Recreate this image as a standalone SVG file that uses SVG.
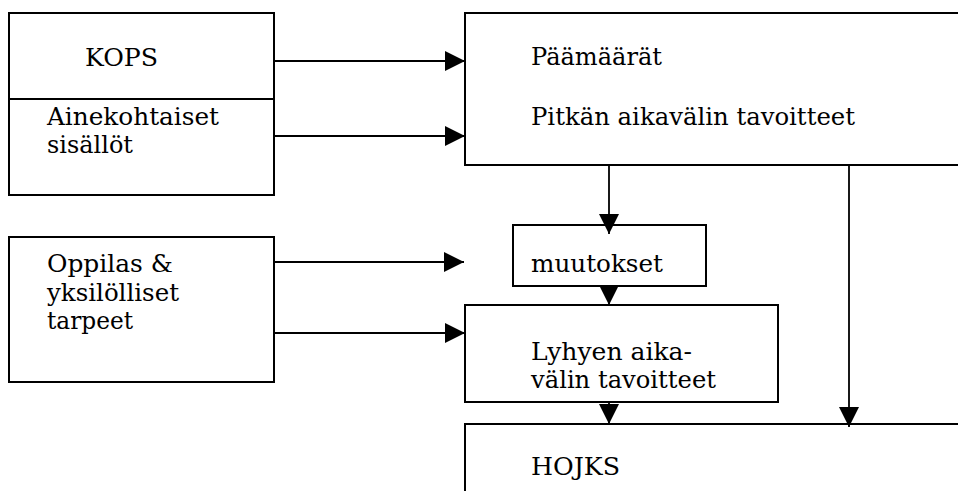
<svg xmlns="http://www.w3.org/2000/svg" width="958" height="491" viewBox="0 0 958 491">
<style>
.box{fill:#fff;stroke:#000;stroke-width:2}
.lbl{font-family:'DejaVu Serif','Liberation Serif',serif;font-size:25px;fill:#000}
.con{stroke:#000;stroke-width:1.8;fill:none;marker-end:url(#ah)}
</style>
<defs>
<marker id="ah" markerUnits="userSpaceOnUse" markerWidth="20" markerHeight="20" refX="20" refY="10" orient="auto" viewBox="0 0 20 20">
<path d="M0,0 L20,10 L0,20 z" fill="#000"/>
</marker>
</defs>
<rect width="958" height="491" fill="#fff"/>
<g id="kops">
<rect class="box" x="9" y="13" width="265" height="86"/>
<text class="lbl" x="85" y="66" textLength="73" lengthAdjust="spacingAndGlyphs">KOPS</text>
</g>
<g id="ainekohtaiset">
<rect class="box" x="9" y="99" width="265" height="96"/>
<text class="lbl" x="47" y="125" textLength="172" lengthAdjust="spacingAndGlyphs">Ainekohtaiset</text>
<text class="lbl" x="47" y="153" textLength="86" lengthAdjust="spacingAndGlyphs">sisällöt</text>
</g>
<g id="oppilas">
<rect class="box" x="9" y="237" width="265" height="145"/>
<text class="lbl" x="47" y="272" textLength="126" lengthAdjust="spacingAndGlyphs">Oppilas &amp;</text>
<text class="lbl" x="47" y="301" textLength="132" lengthAdjust="spacingAndGlyphs">yksilölliset</text>
<text class="lbl" x="47" y="329" textLength="86" lengthAdjust="spacingAndGlyphs">tarpeet</text>
</g>
<g id="paamaarat">
<rect class="box" x="465" y="13" width="520" height="152"/>
<text class="lbl" x="531" y="65" textLength="131" lengthAdjust="spacingAndGlyphs">Päämäärät</text>
<text class="lbl" x="531" y="125" textLength="324" lengthAdjust="spacingAndGlyphs">Pitkän aikavälin tavoitteet</text>
</g>
<g id="muutokset">
<rect class="box" x="513" y="225" width="193" height="61"/>
<text class="lbl" x="531" y="272" textLength="132" lengthAdjust="spacingAndGlyphs">muutokset</text>
</g>
<g id="lyhyen">
<rect class="box" x="465" y="305" width="313" height="97"/>
<text class="lbl" x="531" y="360" textLength="161" lengthAdjust="spacingAndGlyphs">Lyhyen aika-</text>
<text class="lbl" x="531" y="388" textLength="185" lengthAdjust="spacingAndGlyphs">välin tavoitteet</text>
</g>
<g id="hojks">
<rect class="box" x="465" y="424" width="520" height="100"/>
<text class="lbl" x="531" y="475" textLength="89" lengthAdjust="spacingAndGlyphs">HOJKS</text>
</g>
<g id="connectors">
<line class="con" x1="274" y1="61" x2="465" y2="61"/>
<line class="con" x1="274" y1="136" x2="465" y2="136"/>
<line class="con" x1="274" y1="262" x2="464" y2="262"/>
<line class="con" x1="274" y1="333" x2="465" y2="333"/>
<line class="con" x1="609" y1="165" x2="609" y2="234"/>
<line class="con" x1="609" y1="286" x2="609" y2="305"/>
<line class="con" x1="609" y1="402" x2="609" y2="424"/>
<line class="con" x1="849" y1="165" x2="849" y2="427"/>
</g>
</svg>
